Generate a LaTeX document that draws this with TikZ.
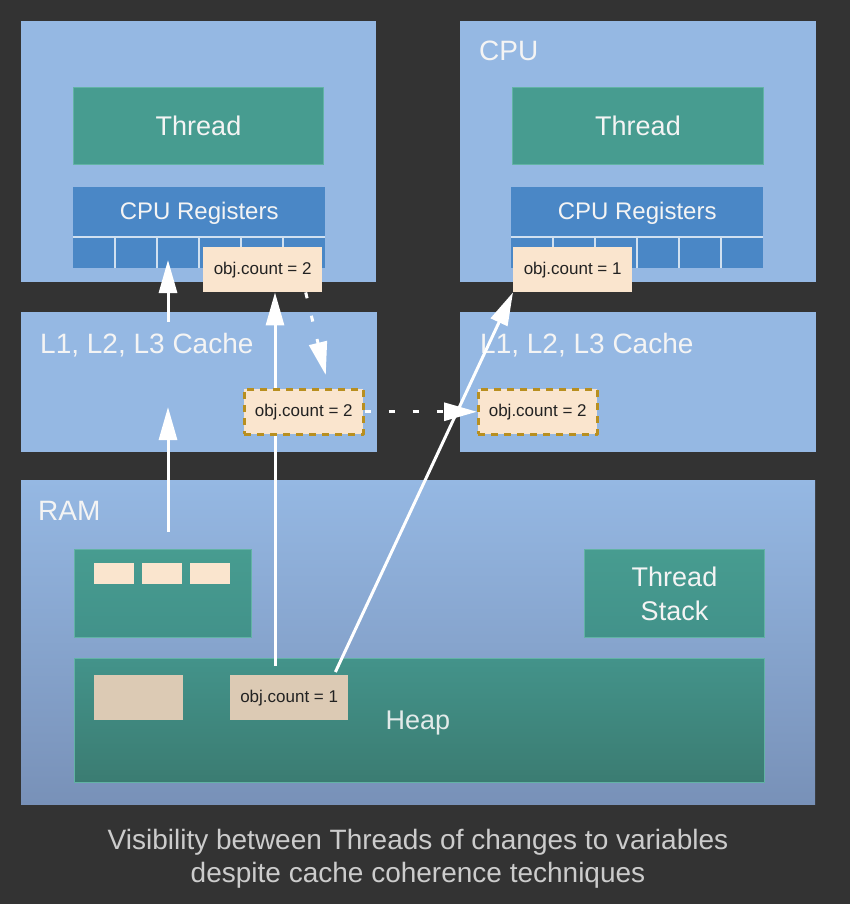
\documentclass[tikz,border=0pt]{standalone}
\usepackage{fontspec}
\setmainfont{Liberation Sans}
\usetikzlibrary{arrows.meta,calc}
\definecolor{bgdark}{HTML}{333333}
\definecolor{boxblue}{HTML}{95B8E3}
\definecolor{ramlow}{HTML}{7891B8}
\definecolor{threadgreen}{HTML}{479C90}
\definecolor{threadedge}{HTML}{62B3A5}
\definecolor{stacklow}{HTML}{42928A}
\definecolor{heaphigh}{HTML}{43938A}
\definecolor{heaplow}{HTML}{3B7C72}
\definecolor{regblue}{HTML}{4A87C6}
\definecolor{cellline}{HTML}{D0E0F0}
\definecolor{cream}{HTML}{FAE5CE}
\definecolor{heapcream}{HTML}{DCCAB4}
\definecolor{dashgold}{HTML}{B88F20}
\definecolor{memotext}{HTML}{222222}
\definecolor{captiongray}{HTML}{CCCCCC}
\definecolor{textwhite}{HTML}{F4F4F4}
\begin{document}
\begin{tikzpicture}[x=1bp,y=-1bp,line join=round,
  area/.style={anchor=north west,inner sep=0pt,fill=boxblue},
  unit/.style={anchor=north west,inner sep=0pt,fill=threadgreen,draw=threadedge,line width=1bp,
    text=textwhite,font=\fontsize{27bp}{34bp}\selectfont},
  regs/.style={anchor=north west,inner sep=0pt,fill=regblue,minimum width=252bp,minimum height=81bp},
  cell/.style={draw=cellline,line width=2bp},
  memo/.style={anchor=north west,inner sep=0pt,fill=cream,text=memotext,
    font=\fontsize{17bp}{20bp}\selectfont,minimum width=119bp,minimum height=45bp},
  cached/.style={memo,draw=dashgold,line width=2.5bp,dash pattern=on 7bp off 6bp},
  lbl/.style={anchor=base west,inner sep=0pt,text=textwhite,font=\fontsize{28bp}{34bp}\selectfont},
  flow/.style={draw=white,line width=3bp,-{Triangle[width=18bp,length=33bp]}},
  dflow/.style={flow,dash pattern=on 6bp off 18bp}]
  \useasboundingbox (0,0) rectangle (850,904);
  \fill[bgdark] (0,0) rectangle (850,904);
  % CPUs
  \node[area,minimum width=355bp,minimum height=261bp] (cpuA) at (21,21) {};
  \node[area,minimum width=356bp,minimum height=261bp] (cpuB) at (460,21) {};
  \node[lbl] (cpuB-name) at (479,60) {CPU};
  \node[unit,minimum width=250bp,minimum height=77bp] (thrA) at (73,87) {Thread};
  \node[unit,minimum width=251bp,minimum height=77bp] (thrB) at (512,87) {Thread};
  \node[regs] (regA) at (73,187) {};
  \node[regs] (regB) at (511,187) {};
  \foreach \r in {regA,regB}{
    \draw[cell] ($(\r.south west)+(0,-31)$) -- ($(\r.south east)+(0,-31)$);
    \foreach \k in {1,...,5}
      \draw[cell] ($(\r.south west)+(42*\k,0)$) -- ++(0,-31);
    \node[text=textwhite,font=\fontsize{24bp}{28bp}\selectfont] (\r-name) at ($(\r.north)+(0,26)$) {CPU Registers};
  }
  % caches
  \node[area,minimum width=356bp,minimum height=140bp] (cacheA) at (21,312) {};
  \node[area,minimum width=356bp,minimum height=140bp] (cacheB) at (460,312) {};
  \node[lbl] (cacheA-name) at (40,353) {L1, L2, L3 Cache};
  \node[lbl] (cacheB-name) at (480,353) {L1, L2, L3 Cache};
  % RAM
  \node[area,top color=boxblue,bottom color=ramlow,minimum width=794bp,minimum height=324bp] (ram) at (21,480) {};
  \node[lbl] (ram-name) at (38,520) {RAM};
  \node[unit,top color=threadgreen,bottom color=stacklow,minimum width=177bp,minimum height=88bp] (stackA) at (74,549) {};
  \foreach \i in {0,1,2}
    \node[anchor=north west,inner sep=0pt,fill=cream,minimum width=40bp,minimum height=21bp] (slot\i) at (94+48*\i,563) {};
  \node[unit,top color=threadgreen,bottom color=stacklow,align=center,minimum width=180bp,minimum height=88bp] (stackB) at (584,549) {Thread\\Stack};
  \node[unit,top color=heaphigh,bottom color=heaplow,minimum width=690bp,minimum height=124bp] (heap) at (74,658) {};
  \node[anchor=base,text=textwhite!90!heaphigh,font=\fontsize{27bp}{32bp}\selectfont] (heap-name) at (418,729) {Heap};
  \node[memo,fill=heapcream,minimum width=89bp] (hblock) at (94,675) {};
  \node[memo,fill=heapcream,minimum width=118bp] (hobj) at (230,675) {obj.count = 1};
  % values in registers
  \node[memo] (objA) at (203,247) {obj.count = 2};
  \node[memo] (objB) at (513,247) {obj.count = 1};
  % reads
  \coordinate (lift) at (168,532);
  \coordinate (liftEnd) at (168,407);
  \draw[flow] (lift) -- (liftEnd);
  \coordinate (load) at (168,322);
  \coordinate (loadEnd) at (168,260);
  \draw[flow] (load) -- (loadEnd);
  \coordinate (readA) at ($(hobj.north west)+(45,-9)$);
  \draw[flow] (readA) -- (readA |- objA.south);
  \coordinate (readB) at ($(hobj.north east)+(-13,-3)$);
  \draw[flow] (readB) -- (objB.south west);
  % cached copies
  \node[cached] (cacheObjA) at (243,388) {obj.count = 2};
  \node[cached] (cacheObjB) at (477,388) {obj.count = 2};
  \coordinate (flush) at ($(objA.south)+(43,0)$);
  \coordinate (flushEnd) at ($(cacheObjA.north)+(22,-13)$);
  \draw[dflow] (flush) -- (flushEnd);
  \draw[dflow] (cacheObjA.east) -- (cacheObjB.west);
  % caption
  \node[anchor=base,text=captiongray,font=\fontsize{28bp}{33bp}\selectfont] (capA) at (418,849) {Visibility between Threads of changes to variables};
  \node[anchor=base,text=captiongray,font=\fontsize{28bp}{33bp}\selectfont] (capB) at (418,882) {despite cache coherence techniques};
\end{tikzpicture}
\end{document}
